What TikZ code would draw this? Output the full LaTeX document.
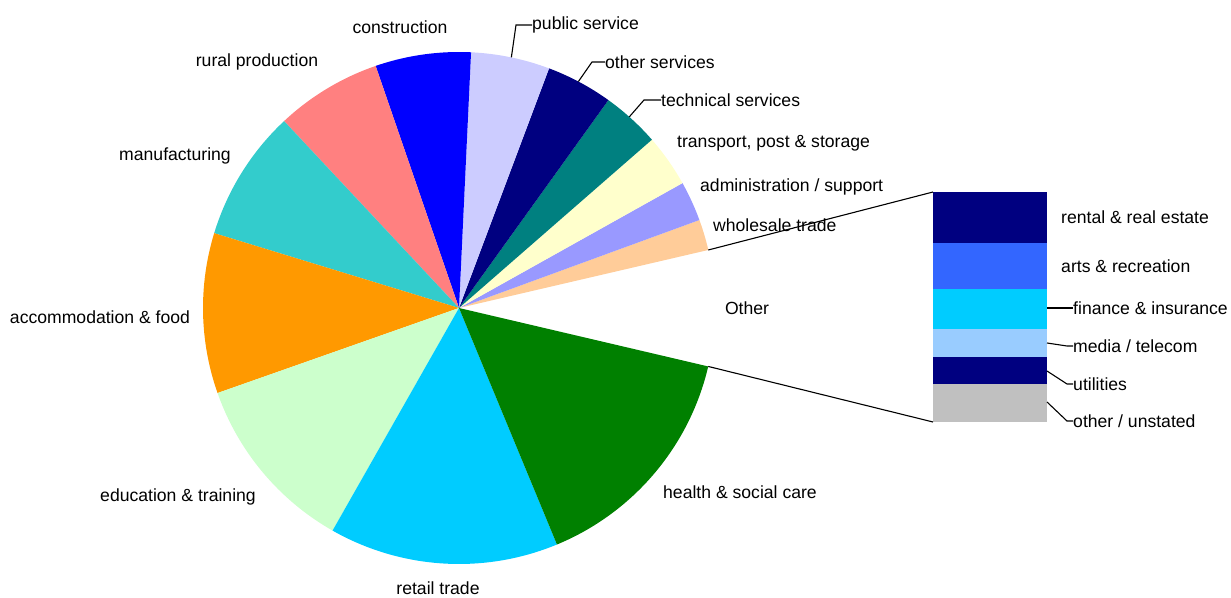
\documentclass[tikz,border=0pt]{standalone}
\usepackage{fontspec}
\setmainfont{Liberation Sans}
\usetikzlibrary{calc}
\definecolor{wholesale}{HTML}{FFCC99}
\definecolor{admin}{HTML}{9999FF}
\definecolor{transport}{HTML}{FFFFCC}
\definecolor{technical}{HTML}{008080}
\definecolor{otherserv}{HTML}{000080}
\definecolor{public}{HTML}{CCCCFF}
\definecolor{construct}{HTML}{0000FF}
\definecolor{rural}{HTML}{FF8080}
\definecolor{manufact}{HTML}{33CCCC}
\definecolor{accommod}{HTML}{FF9900}
\definecolor{educat}{HTML}{CCFFCC}
\definecolor{retail}{HTML}{00CCFF}
\definecolor{health}{HTML}{008000}
\definecolor{rental}{HTML}{000080}
\definecolor{arts}{HTML}{3366FF}
\definecolor{finance}{HTML}{00CCFF}
\definecolor{media}{HTML}{99CCFF}
\definecolor{utilit}{HTML}{000080}
\definecolor{unstated}{HTML}{C0C0C0}
\tikzset{lbl/.style={inner sep=0pt,font=\fontsize{17.6}{20}\selectfont},
  wlbl/.style={lbl,anchor=west},
  leader/.style={line width=1.1pt}}
\begin{document}
\begin{tikzpicture}[x=1pt,y=1pt]
\useasboundingbox (0,0) rectangle (1231,597);
\coordinate (pie) at (459,289);
\foreach \a/\b/\c in {13.1/20.1/wholesale,20.1/29.2/admin,29.2/41.1/transport,
  41.1/54.3/technical,54.3/69.4/otherserv,69.4/87.3/public,87.3/109/construct,
  109/133.1/rural,133.1/163/manufact,163/199.4/accommod,199.4/240.4/educat,
  240.4/292.5/retail,292.5/346.8/health}
  \fill[\c] (pie) -- ++(\a:256) arc[start angle=\a,end angle=\b,radius=256] -- cycle;
% stacked bar for the Other slice
\foreach \t/\u/\c in {405/354/rental,354/308/arts,308/268/finance,268/240/media,
  240/213/utilit,213/175/unstated}
  \fill[\c] (933,\t) rectangle (1047,\u);
\coordinate (bartop) at (933,405);
\coordinate (barbot) at (933,175);
\coordinate (othtop) at ($(pie)+(13.1:256)$);
\coordinate (othbot) at ($(pie)+(-13.2:256)$);
\draw[leader] (othtop) -- (bartop);
\draw[leader] (othbot) -- (barbot);
% labels
\node[lbl] (construction) at (400,570) {construction};
\node[lbl] (rural) at (257,535) {rural production};
\node[lbl] (manufacturing) at (175,441) {manufacturing};
\node[lbl] (accommodation) at (100,280) {accommodation \& food};
\node[lbl] (education) at (178,100) {education \& training};
\node[lbl] (retail) at (438,9) {retail trade};
\node[lbl] (health) at (740,105) {health \& social care};
\node[lbl] (other) at (747,289) {Other};
\node[wlbl] (transport) at (677,454) {transport, post \& storage};
\node[wlbl] (admin) at (700,410) {administration / support};
\node[wlbl] (wholesale) at (713,372) {wholesale trade};
\node[wlbl] (public) at (532,572) {public service};
\node[wlbl] (otherserv) at (605,535) {other services};
\node[wlbl] (technical) at (661,497) {technical services};
\node[wlbl] (rental) at (1061,380) {rental \& real estate};
\node[wlbl] (arts) at (1061,331) {arts \& recreation};
\node[wlbl] (finance) at (1073,289) {finance \& insurance};
\node[wlbl] (media) at (1073,251) {media / telecom};
\node[wlbl] (utilities) at (1073,213) {utilities};
\node[wlbl] (unstated) at (1073,176) {other / unstated};
% leaders
\draw[leader] ($(pie)+(78.2:256)$) -- (516,572) -- (public.west);
\draw[leader] ($(pie)+(62.2:256)$) -- (592,535) -- (otherserv.west);
\draw[leader] ($(pie)+(48.3:256)$) -- (644,497) -- (technical.west);
\draw[leader] (1047,289) -- (finance.west);
\draw[leader] (1047,254) -- (1067,251) -- (media.west);
\draw[leader] (1047,226) -- (1067,213) -- (utilities.west);
\draw[leader] (1047,195) -- (1067,176) -- (unstated.west);
\end{tikzpicture}
\end{document}
